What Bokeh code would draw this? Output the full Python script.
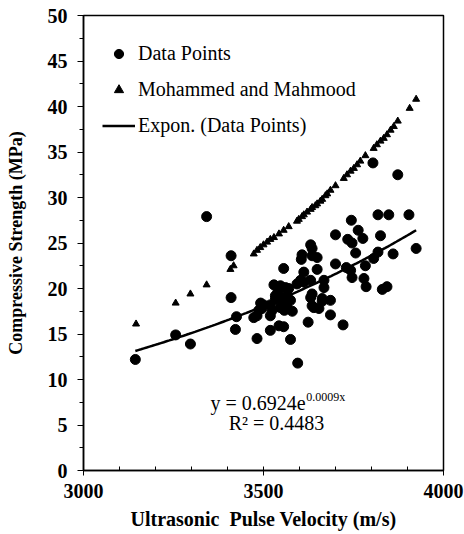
import numpy as np
from bokeh.plotting import figure
from bokeh.models import Range1d, FixedTicker, Legend, LegendItem, Label
from bokeh.embed import file_html
from bokeh.resources import INLINE

# Data points (UPV m/s, compressive strength MPa)
data_x = [3144, 3256, 3297, 3342, 3410, 3410, 3422, 3425,
          3473, 3482, 3482, 3487, 3492, 3496, 3500,
          3519, 3519, 3519, 3524, 3529, 3533, 3533, 3540, 3543, 3547, 3547, 3552, 3556, 3556, 3558,
          3561, 3565, 3565, 3570, 3575, 3575, 3580,
          3595, 3593, 3603, 3605, 3607, 3612, 3612, 3624, 3631, 3631, 3631, 3635, 3635, 3635, 3635,
          3640, 3649, 3649, 3654, 3663, 3663, 3668, 3668, 3686, 3686, 3700, 3700, 3721, 3730, 3734,
          3742, 3744, 3746, 3746, 3756, 3763, 3776, 3779, 3783, 3785, 3804, 3806, 3818, 3818, 3825,
          3830, 3843, 3848, 3860, 3873, 3904, 3924]
data_y = [12.2, 14.9, 13.9, 27.9, 23.6, 19.0, 15.5, 16.9,
          16.8, 14.5, 17.0, 17.6, 18.4, 17.8, 18.2,
          15.4, 17.0, 18.2, 17.6, 20.4, 18.8, 19.2, 19.6, 15.9, 17.9, 20.3, 18.9, 22.2, 15.8, 17.6,
          20.1, 19.2, 18.1, 20.0, 18.7, 14.4, 17.5,
          11.8, 20.5, 20.9, 23.2, 23.7, 21.8, 20.7, 16.3, 24.8, 20.9, 19.0, 23.6, 19.4, 18.1, 24.4,
          17.9, 23.4, 22.1, 17.8, 18.9, 18.6, 20.9, 20.1, 18.7, 17.1, 25.9, 22.7, 16.0, 22.3, 25.4,
          22.0, 27.5, 25.0, 21.2, 23.9, 26.4, 25.5, 21.1, 22.5, 20.2, 33.8, 23.3, 28.1, 24.0, 25.8,
          19.9, 20.2, 28.1, 23.8, 32.5, 28.1, 24.4]

# Mohammed and Mahmood relation points
mm_x = [3146, 3256, 3297, 3342, 3408, 3417, 3473, 3482, 3491, 3500, 3510, 3519, 3529, 3543,
        3556, 3570, 3593, 3598, 3607, 3612, 3621, 3631, 3635, 3644, 3649, 3658, 3663, 3672,
        3677, 3686, 3700, 3723, 3732, 3742, 3751, 3760, 3769, 3783, 3806, 3815, 3825, 3834,
        3843, 3853, 3862, 3873, 3906, 3924]
mm_y = [16.1, 18.4, 19.4, 20.4, 22.1, 22.5, 23.8, 24.2, 24.5, 24.8, 25.1, 25.4, 25.6, 26.0,
        26.4, 26.8, 27.4, 27.6, 27.9, 28.1, 28.4, 28.7, 28.9, 29.1, 29.3, 29.6, 29.8, 30.2,
        30.4, 30.8, 31.3, 32.1, 32.5, 32.9, 33.2, 33.6, 34.0, 34.6, 35.4, 35.8, 36.2, 36.5,
        36.9, 37.4, 37.8, 38.4, 39.8, 40.8]

x_major = [3000, 3500, 4000]
x_minor = list(range(3000, 4001, 100))
y_major = [0, 5, 10, 15, 20, 25, 30, 35, 40, 45, 50]
y_minor = [i * 2.5 for i in range(21)]

eq_text = "y = 0.6924e"
eq_sup = "0.0009x"
r2_text = "R\u00b2 = 0.4483"

# Exponential trend fitted to the data points
b, ln_a = np.polyfit(np.array(data_x, float), np.log(np.array(data_y, float)), 1)
trend_x = np.linspace(min(data_x), max(data_x), 100)
trend_y = np.exp(ln_a) * np.exp(b * trend_x)

SERIF = "Liberation Serif"

p = figure(width=464, height=534, output_backend="svg", toolbar_location=None,
           x_range=Range1d(3000, 4000), y_range=Range1d(0, 50),
           min_border_left=83, min_border_right=21, min_border_top=15, min_border_bottom=64)
p.grid.visible = False
p.outline_line_color = "black"
p.outline_line_width = 1.5
p.background_fill_color = "white"
p.border_fill_color = "white"

r_data = p.scatter(data_x, data_y, marker="circle", size=10, color="black")
r_mm = p.scatter(mm_x, mm_y, marker="triangle", size=7, color="black")
r_trend = p.line(trend_x, trend_y, line_color="black", line_width=2.5)

p.xaxis.ticker = FixedTicker(ticks=x_major, minor_ticks=x_minor)
p.yaxis.ticker = FixedTicker(ticks=y_major, minor_ticks=y_minor)

for ax in (p.xaxis[0], p.yaxis[0]):
    ax.axis_line_color = "black"
    ax.axis_line_width = 1.5
    ax.major_tick_line_color = "black"
    ax.minor_tick_line_color = "black"
    ax.major_label_text_font = SERIF
    ax.major_label_text_font_style = "bold"
    ax.major_label_text_font_size = "20px"
    ax.major_label_text_color = "black"
    ax.axis_label_text_font = SERIF
    ax.axis_label_text_font_style = "bold"
    ax.axis_label_text_color = "black"

p.xaxis.major_tick_in = 0
p.xaxis.major_tick_out = 5
p.xaxis.minor_tick_in = 4
p.xaxis.minor_tick_out = 0
p.xaxis.major_label_standoff = 8
p.xaxis.axis_label = "Ultrasonic\u00a0 Pulse Velocity (m/s)"
p.xaxis.axis_label_text_font_size = "20px"
p.xaxis.axis_label_standoff = 7

p.yaxis.major_tick_in = 0
p.yaxis.major_tick_out = 6
p.yaxis.minor_tick_in = 0
p.yaxis.minor_tick_out = 4
p.yaxis.major_label_standoff = 10
p.yaxis.axis_label = "Compressive Strength (MPa)"
p.yaxis.axis_label_text_font_size = "18px"
p.yaxis.axis_label_standoff = 19

legend = Legend(items=[LegendItem(label="Data Points", renderers=[r_data]),
                       LegendItem(label="Mohammed and Mahmood", renderers=[r_mm]),
                       LegendItem(label="Expon. (Data Points)", renderers=[r_trend])],
                location=(19, 333), margin=0, padding=0, spacing=13,
                glyph_width=33, glyph_height=23, label_standoff=3,
                label_text_font=SERIF, label_text_font_size="20px",
                label_text_color="black",
                background_fill_alpha=0, border_line_alpha=0)
p.add_layout(legend)

p.add_layout(Label(x=3617, y=7.47, text=eq_text, text_align="right", text_baseline="middle",
                   text_font=SERIF, text_font_size="20px", text_color="black"))
p.add_layout(Label(x=3619, y=8.1, text=eq_sup, text_align="left", text_baseline="middle",
                   text_font=SERIF, text_font_size="12px", text_color="black"))
p.add_layout(Label(x=3536, y=5.27, text=r2_text, text_align="center", text_baseline="middle",
                   text_font=SERIF, text_font_size="20px", text_color="black"))

open("out.html", "w").write(file_html(p, INLINE))
